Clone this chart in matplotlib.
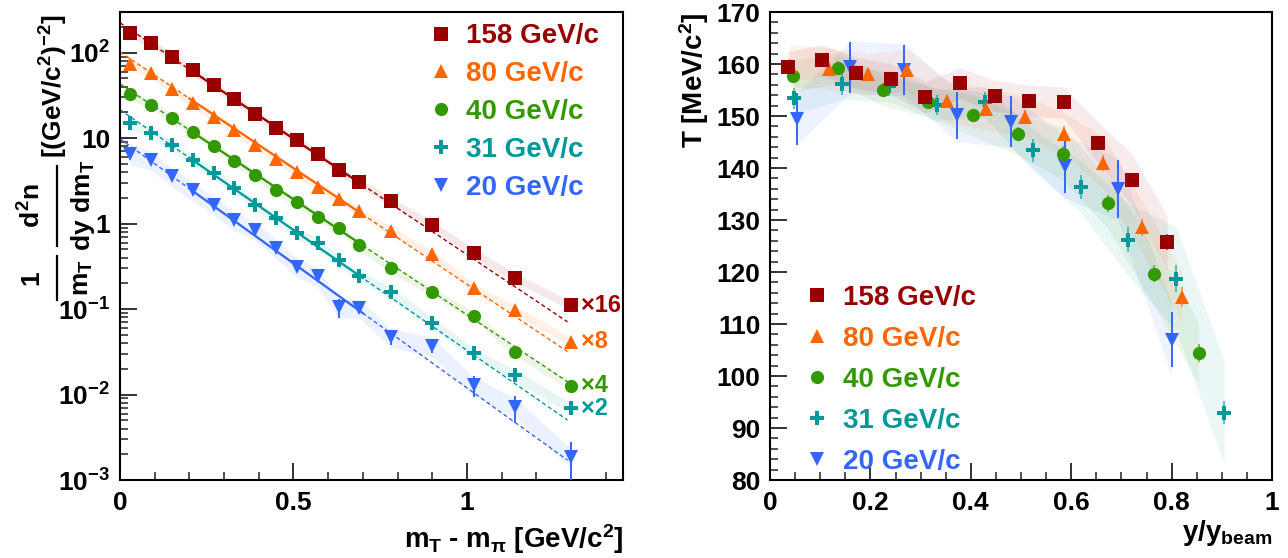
import numpy as np
import matplotlib
matplotlib.use('Agg')
import matplotlib.pyplot as plt
from matplotlib.ticker import FixedLocator, FixedFormatter, MultipleLocator, LogLocator, NullFormatter
from matplotlib.lines import Line2D

plt.rcParams['font.family'] = ['Liberation Sans', 'DejaVu Sans']
plt.rcParams['font.weight'] = 'bold'
plt.rcParams['axes.labelweight'] = 'bold'
plt.rcParams['mathtext.fontset'] = 'custom'
plt.rcParams['mathtext.rm'] = 'Liberation Sans:bold'
plt.rcParams['mathtext.it'] = 'Liberation Sans:bold'
plt.rcParams['mathtext.bf'] = 'Liberation Sans:bold'
plt.rcParams['mathtext.sf'] = 'Liberation Sans:bold'

# ---------------- data ----------------
labels = ['158 GeV/c', '80 GeV/c', '40 GeV/c', '31 GeV/c', '20 GeV/c']
colors = ['#990000', '#ff6600', '#339900', '#009999', '#3366ff']
markers = ['s', '^', 'o', 'P', 'v']
scale_labels = ['\u00d716', '\u00d78', '\u00d74', '\u00d72', None]

# left panel: mT - m_pi bin centres [GeV/c^2]
mt = [0.03, 0.09, 0.15, 0.21, 0.27, 0.33, 0.39, 0.45, 0.51, 0.57, 0.63, 0.69,
      0.78, 0.90, 1.02, 1.14, 1.30]
spec_158 = [171, 129, 89.8, 62.5, 41.4, 28.4, 19.4, 13.1, 9.63, 6.55, 4.28, 3.04,
            1.82, 0.953, 0.459, 0.234, 0.111]
spec_80 = [72.9, 57.2, 37.8, 25.9, 17.8, 12.4, 8.35, 5.72, 3.98, 2.69, 1.93, 1.39,
           0.826, 0.444, 0.176, 0.098, 0.0416]
spec_40 = [32.5, 24.8, 17.3, 11.7, 8.19, 5.36, 3.74, 2.50, 1.77, 1.21, 0.895, 0.561,
           0.302, 0.159, 0.0839, 0.0318, 0.0126]
spec_31 = [15.1, 11.5, 8.26, 5.51, 3.92, 2.61, 1.67, 1.16, 0.776, 0.589, 0.372, 0.245,
           0.158, 0.0695, 0.0304, 0.0169, 0.00689]
spec_20 = [6.60, 5.61, 3.58, 2.45, 1.67, 1.11, 0.848, 0.518, 0.315, 0.242, 0.106, 0.104,
           0.0476, 0.0370, 0.0129, 0.00719, 0.00187]
spectra = [spec_158, spec_80, spec_40, spec_31, spec_20]
# relative statistical errors of the 20 GeV/c spectrum
spec_20_err = [0, 0, 0, 0, 0, 0, 0, 0, 0, 0.05, 0.25, 0.05, 0.21, 0.18, 0.27, 0.35, 0.5]
# relative systematic band widths
spec_sys = [0.12, 0.12, 0.12, 0.15, 0.25]
# exponential fit parameters: A exp(-(mT-m)/T)
fit_A = [224, 102, 43.3, 21.6, 9.84]
fit_T = [0.1601, 0.1598, 0.1607, 0.1542, 0.149]
fit_range = [0.2, 0.7]
extrap_range = [0.0, 1.29]

# right panel: inverse slope parameter T vs y/y_beam
yb_158 = [0.035, 0.104, 0.172, 0.242, 0.309, 0.378, 0.448, 0.515, 0.585, 0.653, 0.722, 0.791]
T_158 = [159.4, 160.7, 158.3, 157.1, 153.6, 156.3, 153.9, 152.9, 152.6, 144.9, 137.6, 125.8]
Te_158 = [1.0, 1.0, 1.0, 1.0, 1.0, 1.0, 1.0, 1.0, 1.1, 1.2, 1.3, 1.5]
Ts_158 = [3, 3, 3, 3, 3, 3, 3, 3, 3, 4, 5, 5]

yb_80 = [0.039, 0.117, 0.195, 0.273, 0.352, 0.430, 0.508, 0.586, 0.664, 0.742, 0.820]
T_80 = [159.7, 159.1, 158.0, 158.9, 152.8, 151.4, 149.8, 146.6, 141.0, 128.6, 115.2]
Te_80 = [1.3, 1.3, 1.3, 1.3, 1.3, 1.3, 1.3, 1.4, 1.5, 1.6, 2.0]
Ts_80 = [4, 4, 4, 4, 4, 4, 4, 4, 5, 5, 5]

yb_40 = [0.045, 0.135, 0.225, 0.315, 0.404, 0.494, 0.584, 0.674, 0.764, 0.854]
T_40 = [157.7, 159.2, 155.0, 152.7, 150.1, 146.5, 142.7, 133.2, 119.7, 104.4]
Te_40 = [1.3, 1.3, 1.3, 1.3, 1.3, 1.4, 1.5, 1.6, 1.7, 1.8]
Ts_40 = [3, 3, 3, 3, 4, 4, 5, 5, 6, 6]

yb_31 = [0.048, 0.143, 0.238, 0.333, 0.428, 0.524, 0.619, 0.714, 0.809, 0.905]
T_31 = [153.4, 156.1, 155.8, 152.1, 152.7, 143.4, 136.4, 126.2, 118.7, 92.9]
Te_31 = [2.0, 2.0, 2.0, 2.0, 2.0, 2.2, 2.3, 2.4, 2.6, 2.2]
Ts_31 = [3, 3, 3, 3, 3, 4, 5, 7, 10, 10]

yb_20 = [0.053, 0.160, 0.267, 0.373, 0.480, 0.587, 0.693, 0.800]
T_20 = [149.4, 159.4, 158.9, 150.1, 148.9, 140.3, 135.9, 107.0]
Te_20 = [5.0, 4.9, 4.8, 4.6, 4.9, 5.1, 5.6, 5.3]
Ts_20 = [5, 5, 5, 5, 5, 6, 6, 7]

yb_all = [yb_158, yb_80, yb_40, yb_31, yb_20]
T_all = [T_158, T_80, T_40, T_31, T_20]
Te_all = [Te_158, Te_80, Te_40, Te_31, Te_20]
Ts_all = [Ts_158, Ts_80, Ts_40, Ts_31, Ts_20]

left_ylabels = ['$10^{-3}$', '$10^{-2}$', '$10^{-1}$', '1', '10', '$10^{2}$']
left_yticks = [1e-3, 1e-2, 1e-1, 1, 10, 100]
left_xticks = [0, 0.5, 1]
left_xlabels = ['0', '0.5', '1']
right_xticks = [0, 0.2, 0.4, 0.6, 0.8, 1]
right_xlabels = ['0', '0.2', '0.4', '0.6', '0.8', '1']
right_yticks = [80, 90, 100, 110, 120, 130, 140, 150, 160, 170]

# ---------------- figure ----------------
W, H = 1288, 558
fig = plt.figure(figsize=(W / 100, H / 100), dpi=100)
axL = fig.add_axes([120 / W, 1 - 480 / H, 503 / W, 468 / H])
axR = fig.add_axes([770 / W, 1 - 480 / H, 502 / W, 468 / H])

TICK_FS = 19
MS = 9.5

def style_axis(ax):
    for sp in ax.spines.values():
        sp.set_linewidth(1.5)
    ax.tick_params(which='both', direction='in', top=False, right=False, colors='#222222',
                   labelcolor='black', labelsize=TICK_FS)
    ax.tick_params(which='major', length=12, width=1.3)
    ax.tick_params(which='minor', length=6, width=1.1)
    ax.tick_params(axis='y', pad=7)
    ax.tick_params(axis='x', pad=8)

# ---- left panel ----
xf = np.linspace(extrap_range[0], extrap_range[1], 300)
xs = np.linspace(fit_range[0], fit_range[1], 200)
for i in range(5):
    x = np.array(mt)
    y = np.array(spectra[i])
    c = colors[i]
    ax = axL
    ax.fill_between(x, y * (1 - spec_sys[i]), y * (1 + spec_sys[i]), color=c, alpha=0.09,
                    lw=0, zorder=1)
    ax.plot(xf, fit_A[i] * np.exp(-xf / fit_T[i]), color=c, lw=1.0, ls=(0, (3, 2)), zorder=2)
    ax.plot(xs, fit_A[i] * np.exp(-xs / fit_T[i]), color=c, lw=1.6, zorder=2)
    if i == 4:
        yerr = y * np.array(spec_20_err)
        ax.errorbar(x, y, yerr=yerr, fmt=markers[i], color=c, ms=MS, mew=0, elinewidth=1.4,
                    capsize=0, zorder=3)
    else:
        ax.plot(x, y, ls='none', marker=markers[i], color=c, ms=MS, mew=0, zorder=3)
    if scale_labels[i]:
        ax.annotate(scale_labels[i], xy=(x[-1], y[-1]), xytext=(7, 0),
                    textcoords='offset points', ha='left', va='center', color=c,
                    fontsize=17, fontweight='bold')

axL.set_yscale('log')
axL.set_xlim(0, 1.45)
axL.set_ylim(1e-3, 300)
axL.yaxis.set_major_locator(FixedLocator(left_yticks))
axL.yaxis.set_major_formatter(FixedFormatter(left_ylabels))
axL.yaxis.set_minor_locator(LogLocator(base=10, subs=np.arange(2, 10)))
axL.yaxis.set_minor_formatter(NullFormatter())
axL.xaxis.set_major_locator(FixedLocator(left_xticks))
axL.xaxis.set_major_formatter(FixedFormatter(left_xlabels))
axL.xaxis.set_minor_locator(MultipleLocator(0.1))
style_axis(axL)
axL.set_xlabel(r'$m_{T}$ - $m_{\pi}$ [GeV/c$^{2}$]', loc='right', fontsize=20, labelpad=5)

# y-axis title of left panel, built ROOT-style from stacked pieces (rotated)
def ftext(px, py, s, fs, ha='center', va='center'):
    fig.text(px / W, 1 - py / H, s, rotation=90, rotation_mode='anchor', ha=ha, va=va,
             fontsize=fs, fontweight='bold', color='black')

def fbar(px, py0, py1):
    fig.add_artist(Line2D([px / W, px / W], [1 - py0 / H, 1 - py1 / H], color='black',
                          lw=1.6, transform=fig.transFigure))

FR_FS = 19
ftext(31, 278, '1', FR_FS)
fbar(57, 256, 300)
ftext(83, 278, r'$m_{T}$', FR_FS)
ftext(32, 205, r'$d^{2}n$', FR_FS)
fbar(57, 166, 246)
ftext(83, 205, r'$dy\ dm_{T}$', FR_FS)
ftext(63, 14, r'[(GeV/c$^{2}$)$^{-2}$]', FR_FS, ha='right', va='baseline')

handles = [Line2D([], [], ls='none', marker=markers[i], color=colors[i], ms=MS, mew=0)
           for i in range(5)]
legL = axL.legend(handles, labels, loc='upper left', bbox_to_anchor=(0.610, 0.976),
                  frameon=False, fontsize=20, handlelength=1.0, handletextpad=0.4,
                  labelspacing=0.43, borderpad=0, borderaxespad=0)
for t, c in zip(legL.get_texts(), colors):
    t.set_color(c)

# ---- right panel ----
for i in [4, 3, 2, 1, 0]:
    x = np.array(yb_all[i])
    T = np.array(T_all[i])
    s = np.array(Ts_all[i])
    c = colors[i]
    axR.fill_between(x, T - s, T + s, color=c, alpha=0.08, lw=0, zorder=1)
for i in [4, 3, 2, 1, 0]:
    c = colors[i]
    if i == 4:
        axR.errorbar(yb_all[i], T_all[i], yerr=Te_all[i], fmt=markers[i], color=c, ms=MS,
                     mew=0, elinewidth=1.4, capsize=0, zorder=3 + (4 - i))
    else:
        eb = axR.errorbar(yb_all[i], T_all[i], yerr=Te_all[i], fmt=markers[i], color=c,
                          ms=MS, mew=0, elinewidth=1.4, ecolor=c, capsize=0,
                          zorder=3 + (4 - i))
        for lc in eb[2]:
            lc.set_alpha(0.6)

axR.set_xlim(0, 1)
axR.set_ylim(80, 170)
axR.xaxis.set_major_locator(FixedLocator(right_xticks))
axR.xaxis.set_major_formatter(FixedFormatter(right_xlabels))
axR.xaxis.set_minor_locator(MultipleLocator(0.05))
axR.yaxis.set_major_locator(FixedLocator(right_yticks))
axR.yaxis.set_minor_locator(MultipleLocator(2))
style_axis(axR)
axR.set_xlabel(r'y/y$_{\mathregular{beam}}$', loc='right', fontsize=20, labelpad=2)
axR.set_ylabel(r'T [MeV/c$^{2}$]', loc='top', fontsize=20, labelpad=4)

legR = axR.legend(handles, labels, loc='upper left', bbox_to_anchor=(0.066, 0.417),
                  frameon=False, fontsize=20, handlelength=1.0, handletextpad=0.43,
                  labelspacing=0.54, borderpad=0, borderaxespad=0)
for t, c in zip(legR.get_texts(), colors):
    t.set_color(c)

fig.savefig('out.png', dpi=100)
